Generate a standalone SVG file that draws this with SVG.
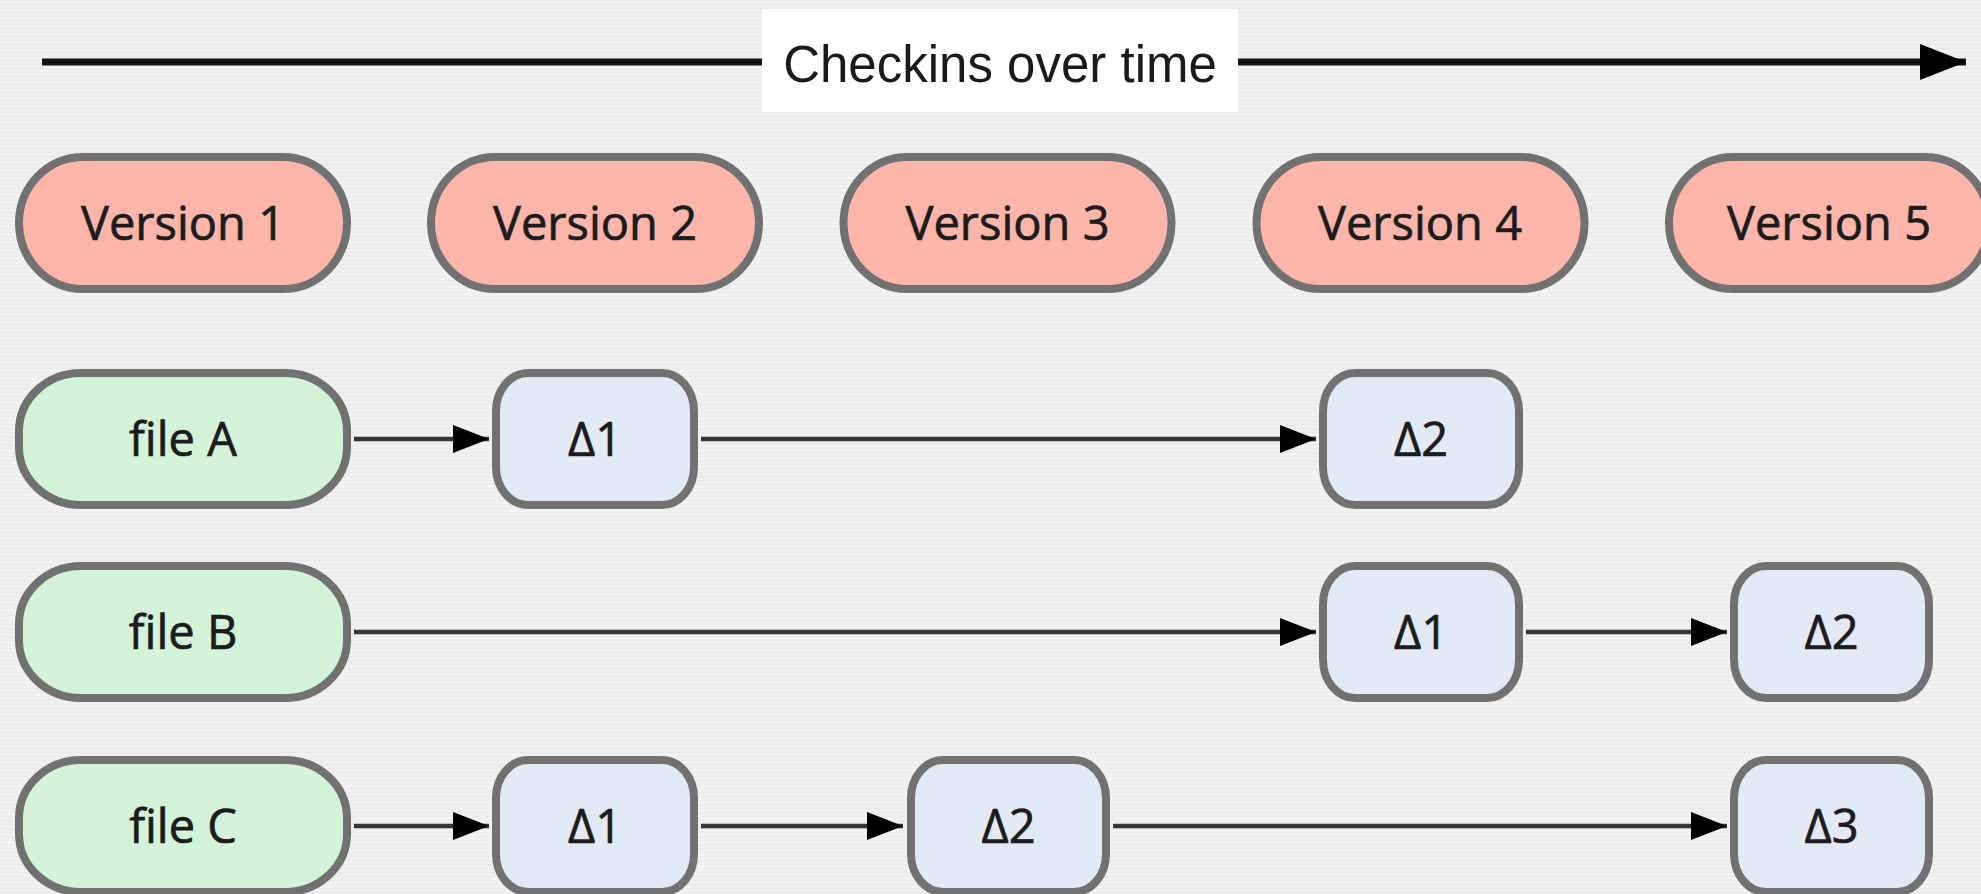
<svg xmlns="http://www.w3.org/2000/svg" width="1981" height="894" viewBox="0 0 1981 894">
<style>
  .bg{fill:#f1f0ee}
  .ver{fill:#feb5aa;stroke:#717171;stroke-width:8}
  .file{fill:#d3f4d9;stroke:#717171;stroke-width:8}
  .delta{fill:#e3eaf6;stroke:#717171;stroke-width:8}
  .lbl{font-family:"Open Sans","Noto Sans",sans-serif;font-size:47px;fill:#1c1c1c;stroke:#1c1c1c;stroke-width:0.7;text-anchor:middle}
  .conn{stroke:#363636;stroke-width:4.5;fill:none;marker-end:url(#ah)}
  .title{font-family:"Liberation Sans",Arial,sans-serif;font-size:51px;fill:#1a1a1a;text-anchor:middle}
</style>
<defs>
  <marker id="ah" markerUnits="userSpaceOnUse" markerWidth="36" markerHeight="28" refX="36" refY="14" orient="auto">
    <path d="M0,0 L36,14 L0,28 z" fill="#000"/>
  </marker>
  <marker id="ahBig" markerUnits="userSpaceOnUse" markerWidth="46" markerHeight="36" refX="46" refY="18" orient="auto">
    <path d="M0,0 L46,18 L0,36 z" fill="#000"/>
  </marker>
  <pattern id="tex" width="6" height="4" patternUnits="userSpaceOnUse">
    <rect width="6" height="4" fill="#f2f1ef"/>
    <rect y="0" width="6" height="1" fill="#e9e8e6"/>
  </pattern>
</defs>
<rect class="bg" width="1981" height="894"/>
<rect width="1981" height="894" fill="url(#tex)" opacity="0.6"/>

<g id="timeline">
  <line x1="42" y1="62" x2="1966" y2="62" stroke="#111" stroke-width="7" marker-end="url(#ahBig)"/>
  <rect x="762" y="9" width="476" height="103" fill="#ffffff"/>
  <text class="title" x="1000" y="82">Checkins over time</text>
</g>

<g id="connectors">
  <line class="conn" x1="354" y1="439" x2="489" y2="439"/>
  <line class="conn" x1="701" y1="439" x2="1316" y2="439"/>
  <line class="conn" x1="354" y1="632" x2="1316" y2="632"/>
  <line class="conn" x1="1526" y1="632" x2="1727" y2="632"/>
  <line class="conn" x1="354" y1="826" x2="489" y2="826"/>
  <line class="conn" x1="701" y1="826" x2="903" y2="826"/>
  <line class="conn" x1="1113" y1="826" x2="1727" y2="826"/>
</g>

<g id="version1"><rect class="ver" x="19" y="157" width="328" height="132" rx="64" ry="66"/><text class="lbl" x="183" y="240">Version 1</text></g>
<g id="version2"><rect class="ver" x="431" y="157" width="328" height="132" rx="64" ry="66"/><text class="lbl" x="595" y="240">Version 2</text></g>
<g id="version3"><rect class="ver" x="843.5" y="157" width="328" height="132" rx="64" ry="66"/><text class="lbl" x="1007.5" y="240">Version 3</text></g>
<g id="version4"><rect class="ver" x="1256.5" y="157" width="328" height="132" rx="64" ry="66"/><text class="lbl" x="1420" y="240">Version 4</text></g>
<g id="version5"><rect class="ver" x="1669" y="157" width="320" height="132" rx="64" ry="66"/><text class="lbl" x="1829" y="240">Version 5</text></g>

<g id="fileA"><rect class="file" x="19" y="373" width="328" height="132" rx="62" ry="58"/><text class="lbl" x="183" y="456">file A</text></g>
<g id="fileB"><rect class="file" x="19" y="566" width="328" height="132" rx="62" ry="58"/><text class="lbl" x="183" y="649">file B</text></g>
<g id="fileC"><rect class="file" x="19" y="760" width="328" height="132" rx="62" ry="58"/><text class="lbl" x="183" y="843">file C</text></g>

<g id="fileA-d1"><rect class="delta" x="496" y="373" width="198" height="132" rx="32" ry="38"/><text class="lbl" x="595" y="456">Δ1</text></g>
<g id="fileA-d2"><rect class="delta" x="1323" y="373" width="196" height="132" rx="32" ry="38"/><text class="lbl" x="1421" y="456">Δ2</text></g>
<g id="fileB-d1"><rect class="delta" x="1323" y="566" width="196" height="132" rx="32" ry="38"/><text class="lbl" x="1421" y="649">Δ1</text></g>
<g id="fileB-d2"><rect class="delta" x="1734" y="566" width="195" height="132" rx="32" ry="38"/><text class="lbl" x="1831.5" y="649">Δ2</text></g>
<g id="fileC-d1"><rect class="delta" x="496" y="760" width="198" height="132" rx="32" ry="38"/><text class="lbl" x="595" y="843">Δ1</text></g>
<g id="fileC-d2"><rect class="delta" x="911" y="760" width="195" height="132" rx="32" ry="38"/><text class="lbl" x="1008.5" y="843">Δ2</text></g>
<g id="fileC-d3"><rect class="delta" x="1734" y="760" width="195" height="132" rx="32" ry="38"/><text class="lbl" x="1831.5" y="843">Δ3</text></g>
</svg>
